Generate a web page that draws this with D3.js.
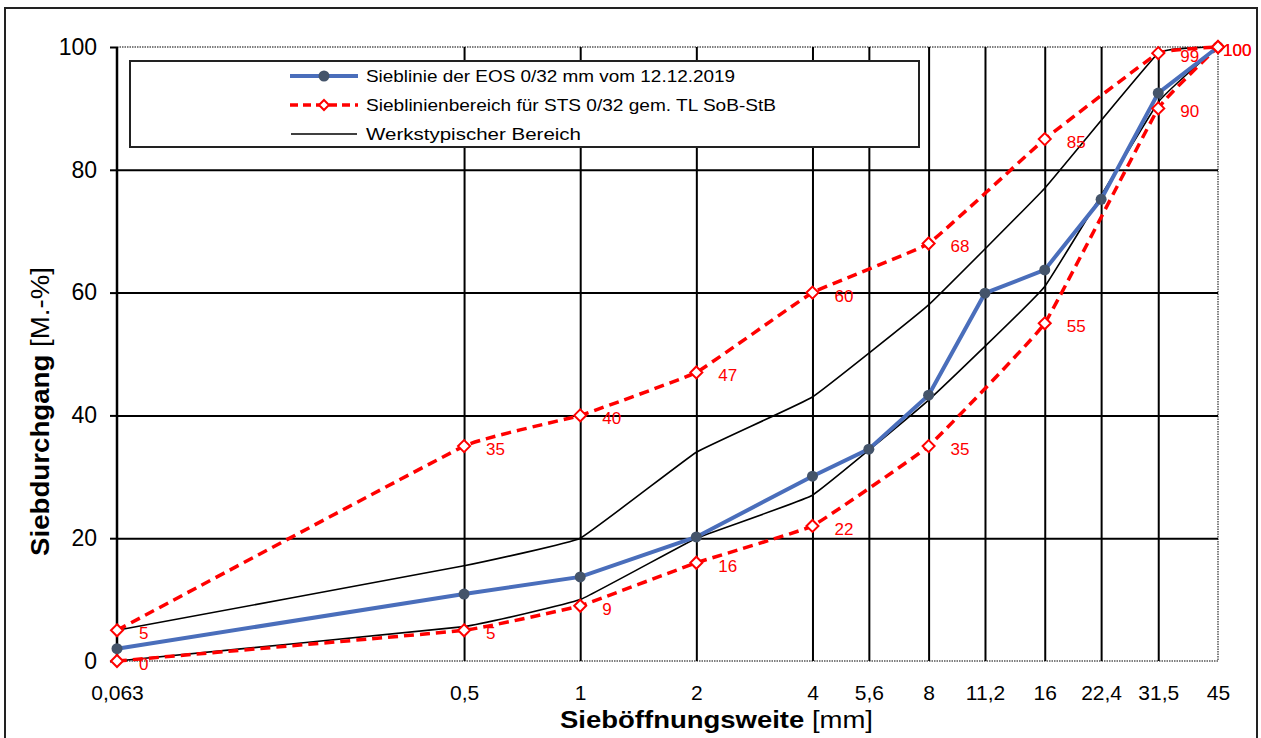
<!DOCTYPE html>
<html>
<head>
<meta charset="utf-8">
<script src="https://cdn.jsdelivr.net/npm/d3@7"></script>
<style>
  html, body { margin: 0; padding: 0; background: #fff; }
  svg { display: block; font-family: "Liberation Sans", Arial, sans-serif; }
</style>
</head>
<body>
<svg id="chart" width="1261" height="738"></svg>
<script>
// ---- data ----
const sieveSizes = [0.063, 0.5, 1, 2, 4, 5.6, 8, 11.2, 16, 22.4, 31.5, 45];
const eosValues  = [2.0, 10.9, 13.7, 20.2, 30.1, 34.5, 43.3, 59.9, 63.7, 75.2, 92.5, 100];
const bandSieves = [0.063, 0.5, 1, 2, 4, 8, 16, 31.5, 45];
const bandUpper  = [5, 35, 40, 47, 60, 68, 85, 99, 100];
const bandLower  = [0, 5, 9, 16, 22, 35, 55, 90, 100];
const werkSieves = [0.063, 0.5, 1, 2, 4, 8, 16, 31.5, 45];
const werkUpper  = [5, 15.5, 20, 34, 43, 58, 77, 99, 100];
const werkLower  = [0, 5.6, 10, 20, 27, 42.5, 61, 91, 100];
const yTicks     = [0, 20, 40, 60, 80, 100];
const legendLabels = [
  "Sieblinie der EOS 0/32 mm vom 12.12.2019",
  "Sieblinienbereich für STS 0/32 gem. TL SoB-StB",
  "Werkstypischer Bereich"
];

const svg = d3.select("#chart");
const L = 117, R = 1218, T = 47, B = 661;
const x = d3.scaleLog().domain([0.063, 45]).range([L, R]);
const y = d3.scaleLinear().domain([0, 100]).range([B, T]);

const BLUE = "#4a6ebb", MARK = "#44546a", RED = "#ff0000";

// outer border
svg.append("rect").attr("x", 5).attr("y", 8).attr("width", 1252).attr("height", 760)
  .attr("fill", "none").attr("stroke", "#222").attr("stroke-width", 2);

// plot frame (dotted)
svg.append("rect").attr("x", L).attr("y", T).attr("width", R - L).attr("height", B - T)
  .attr("fill", "none").attr("stroke", "#555").attr("stroke-width", 1.5).attr("stroke-dasharray", "1.5,1");

// vertical grid
const vGrid = svg.append("g").attr("transform", `translate(0,${B})`)
  .call(d3.axisBottom(x).tickValues(sieveSizes.filter(d => d !== 45 && d !== 0.063)).tickSize(-(B - T)).tickFormat(""));
vGrid.select(".domain").remove();
vGrid.selectAll("line").attr("stroke", "#000").attr("stroke-width", 2);

// horizontal grid
const hGrid = svg.append("g").attr("transform", `translate(${L},0)`)
  .call(d3.axisLeft(y).tickValues(yTicks.filter(d => d > 0 && d < 100)).tickSize(-(R - L)).tickFormat(""));
hGrid.select(".domain").remove();
hGrid.selectAll("line").attr("stroke", "#000").attr("stroke-width", 2);

// y axis
const yAxis = svg.append("g").attr("transform", `translate(${L},0)`)
  .call(d3.axisLeft(y).tickValues(yTicks).tickSize(7).tickPadding(13));
yAxis.select(".domain").attr("stroke", "#000").attr("stroke-width", 2.5).attr("d", `M0,${B}V${T}`);
yAxis.selectAll("line").attr("stroke", "#000").attr("stroke-width", 2);
yAxis.selectAll("text").attr("font-size", 23).attr("fill", "#000")
  .attr("font-family", "Liberation Sans, Arial, sans-serif");

// x axis labels
const xAxis = svg.append("g").attr("transform", `translate(0,${B})`)
  .call(d3.axisBottom(x).tickValues(sieveSizes).tickSize(0).tickPadding(24)
    .tickFormat(d => String(d).replace(".", ",")));
xAxis.select(".domain").remove();
xAxis.selectAll("text").attr("font-size", 21).attr("fill", "#000")
  .attr("font-family", "Liberation Sans, Arial, sans-serif");

// axis titles
const xt = svg.append("text").attr("x", 560).attr("y", 728)
  .attr("font-size", 23).attr("fill", "#000")
  .attr("textLength", 313).attr("lengthAdjust", "spacingAndGlyphs");
xt.append("tspan").attr("font-weight", "bold").text("Sieböffnungsweite");
xt.append("tspan").text(" [mm]");

const yt = svg.append("text").attr("transform", "translate(49,556) rotate(-90)")
  .attr("font-size", 25).attr("fill", "#000")
  .attr("textLength", 289).attr("lengthAdjust", "spacingAndGlyphs");
yt.append("tspan").attr("font-weight", "bold").text("Siebdurchgang");
yt.append("tspan").text(" [M.-%]");

// line generators
const smooth = d3.line().curve(d3.curveCardinal.tension(0.75));
const straight = d3.line();

function pts(xs, ys) { return xs.map((s, i) => [x(s), y(ys[i])]); }

// werkstypischer Bereich (black)
[werkUpper, werkLower].forEach(vals => {
  svg.append("path").attr("d", smooth(pts(werkSieves, vals)))
    .attr("fill", "none").attr("stroke", "#000").attr("stroke-width", 1.6);
});

// band (red dashed)
const diamond = "M0,-6L6,0L0,6L-6,0Z";
[bandUpper, bandLower].forEach(vals => {
  svg.append("path").attr("d", smooth(pts(bandSieves, vals)))
    .attr("fill", "none").attr("stroke", RED).attr("stroke-width", 3.5)
    .attr("stroke-dasharray", "10,6");
});

// EOS line (blue)
svg.append("path").attr("d", straight(pts(sieveSizes, eosValues)))
  .attr("fill", "none").attr("stroke", BLUE).attr("stroke-width", 4);
svg.append("g").selectAll("circle").data(sieveSizes).join("circle")
  .attr("cx", d => x(d)).attr("cy", (d, i) => y(eosValues[i])).attr("r", 5.5)
  .attr("fill", MARK);

// band markers and labels
[bandUpper, bandLower].forEach(vals => {
  svg.append("g").selectAll("path").data(bandSieves).join("path")
    .attr("d", diamond)
    .attr("transform", (d, i) => `translate(${x(d)},${y(vals[i])})`)
    .attr("fill", "#fff").attr("stroke", RED).attr("stroke-width", 2);
  svg.append("g").selectAll("text").data(bandSieves).join("text")
    .attr("x", (d, i) => x(d) + (i === bandSieves.length - 1 ? 5 : 22))
    .attr("y", (d, i) => y(vals[i]) + 3)
    .attr("dy", "0.35em").attr("font-size", 17).attr("fill", RED)
    .text((d, i) => vals[i]);
});

// legend
const lg = svg.append("g");
lg.append("rect").attr("x", 130).attr("y", 61).attr("width", 789).attr("height", 86)
  .attr("fill", "#fff").attr("stroke", "#222").attr("stroke-width", 2);
const rows = [76, 105, 134];
const textLens = [369, 410, 215];
// row 1
lg.append("line").attr("x1", 290).attr("x2", 358).attr("y1", rows[0]).attr("y2", rows[0])
  .attr("stroke", BLUE).attr("stroke-width", 4);
lg.append("circle").attr("cx", 324).attr("cy", rows[0]).attr("r", 5.5).attr("fill", MARK);
// row 2
lg.append("line").attr("x1", 290).attr("x2", 358).attr("y1", rows[1]).attr("y2", rows[1])
  .attr("stroke", RED).attr("stroke-width", 3.5).attr("stroke-dasharray", "8,5");
lg.append("path").attr("d", "M0,-5L5,0L0,5L-5,0Z").attr("transform", `translate(324,${rows[1]})`)
  .attr("fill", "#fff").attr("stroke", RED).attr("stroke-width", 2);
// row 3
lg.append("line").attr("x1", 291).attr("x2", 357).attr("y1", rows[2]).attr("y2", rows[2])
  .attr("stroke", "#000").attr("stroke-width", 1.6);
legendLabels.forEach((t, i) => {
  lg.append("text").attr("x", 366).attr("y", rows[i]).attr("dy", "0.35em")
    .attr("font-size", 17).attr("fill", "#000")
    .attr("textLength", textLens[i]).attr("lengthAdjust", "spacingAndGlyphs")
    .text(t);
});
</script>
</body>
</html>
